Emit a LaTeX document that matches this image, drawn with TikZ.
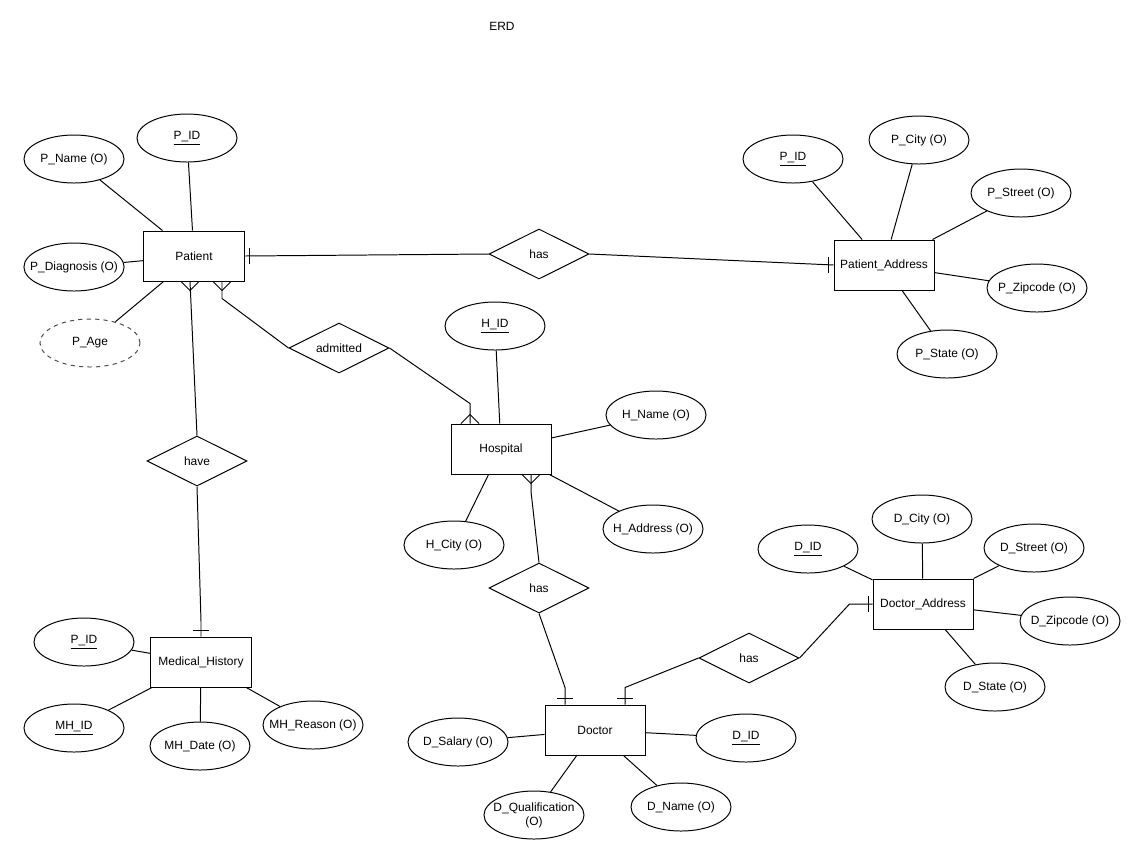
\documentclass[tikz,border=0pt]{standalone}
\usepackage{fontspec}
\setmainfont{Liberation Sans}
\usepackage{tikz}
\usetikzlibrary{shapes.geometric, calc}

% crow's foot at an entity edge (many side)
\newcommand{\crowdown}[1]{\draw (#1) ++(-9,0) -- ++(9,9) -- ++(9,-9);}
\newcommand{\crowup}[1]{\draw (#1) ++(-9,0) -- ++(9,-9) -- ++(9,9);}

\begin{document}
\begin{tikzpicture}[x=0.025cm, y=-0.025cm, line width=0.7pt,
        every node/.style={font=\fontsize{8.5}{10}\selectfont},
        entity/.style={rectangle, draw, fill=white, minimum width=2.5cm, minimum height=1.25cm, align=center},
        attr/.style={ellipse, draw, minimum width=2.5cm, minimum height=1.2cm, inner xsep=-6pt, inner ysep=0pt, align=center},
        derived/.style={attr, dashed, draw=black!70},
        rel/.style={diamond, draw, aspect=2, minimum width=2.5cm, minimum height=1.25cm, inner sep=0pt}]

    \useasboundingbox (0,0) rectangle (1141,864);

    \node (title) at (502,26) {ERD};

    % Patient
    \node (patient) [entity] at (194,256) {Patient};
    \node (ppid) [attr] at (187,138) {\underline{P\_ID}};
    \node (pname) [attr] at (74,159) {P\_Name (O)};
    \node (pdiag) [attr] at (74,267) {P\_Diagnosis (O)};
    \node (page) [derived] at (90,343) {P\_Age};

    % Patient_Address
    \node (has1) [rel] at (539,254) {has};
    \node (pataddr) [entity] at (884,265) {Patient\_Address};
    \node (papid) [attr] at (793,159) {\underline{P\_ID}};
    \node (pcity) [attr] at (919,140) {P\_City (O)};
    \node (pstreet) [attr] at (1021,193) {P\_Street (O)};
    \node (pzip) [attr] at (1037,288) {P\_Zipcode (O)};
    \node (pstate) [attr] at (947,354) {P\_State (O)};

    % Hospital
    \node (admitted) [rel] at (339,348) {admitted};
    \node (hospital) [entity] at (501,449) {Hospital};
    \node (hid) [attr] at (495,326) {\underline{H\_ID}};
    \node (hname) [attr] at (656,415) {H\_Name (O)};
    \node (hcity) [attr] at (454,545) {H\_City (O)};
    \node (haddr) [attr] at (653,529) {H\_Address (O)};

    % Medical_History
    \node (have) [rel] at (197,461) {have};
    \node (mh) [entity] at (201,662) {Medical\_History};
    \node (mhpid) [attr] at (84,642) {\underline{P\_ID}};
    \node (mhid) [attr] at (74,728) {\underline{MH\_ID}};
    \node (mhdate) [attr] at (200,746) {MH\_Date (O)};
    \node (mhreason) [attr] at (313,725) {MH\_Reason (O)};

    % Doctor
    \node (has2) [rel] at (539,588) {has};
    \node (doctor) [entity] at (595,730) {Doctor};
    \node (dsalary) [attr] at (458,742) {D\_Salary (O)};
    \node (did) [attr] at (746,738) {\underline{D\_ID}};
    \node (dqual) [attr] at (534,815) {D\_Qualification\\(O)};
    \node (dname) [attr] at (681,807) {D\_Name (O)};

    % Doctor_Address
    \node (has3) [rel] at (749,658) {has};
    \node (docaddr) [entity] at (923,604) {Doctor\_Address};
    \node (dadid) [attr] at (808,549) {\underline{D\_ID}};
    \node (dcity) [attr] at (922,519) {D\_City (O)};
    \node (dstreet) [attr] at (1034,548) {D\_Street (O)};
    \node (dzip) [attr] at (1070,621) {D\_Zipcode (O)};
    \node (dstate) [attr] at (995,687) {D\_State (O)};

    % attributes
    \foreach \a in {ppid, pname, pdiag, page}
        \draw (\a) -- (patient);
    \foreach \a in {papid, pcity, pstreet, pzip, pstate}
        \draw (\a) -- (pataddr);
    \foreach \a in {hid, hname, hcity, haddr}
        \draw (\a) -- (hospital);
    \foreach \a in {mhpid, mhid, mhdate, mhreason}
        \draw (\a) -- (mh);
    \foreach \a in {dsalary, did, dqual, dname}
        \draw (\a) -- (doctor);
    \foreach \a in {dadid, dcity, dstreet, dzip, dstate}
        \draw (\a) -- (docaddr);

    % relationships
    \coordinate (pf1) at ($(patient.south)+(-4,0)$);
    \coordinate (pf2) at ($(patient.south)+(28,0)$);
    \coordinate (hf1) at ($(hospital.north)+(-31,0)$);
    \coordinate (hf2) at ($(hospital.south)+(30,0)$);
    \coordinate (df1) at ($(doctor.north)+(-30,0)$);
    \coordinate (df2) at ($(doctor.north)+(30,0)$);

    \draw (patient.east) -- (has1.west);
    \draw (has1.east) -- (pataddr.west);
    \draw ($(patient.east)+(5,-8)$) -- ++(0,16);
    \draw ($(pataddr.west)+(-5,-8)$) -- ++(0,16);

    \draw (pf1) -- (have.north);
    \draw (have.south) -- ($(mh.north)+(0,-15)$) -- (mh.north);
    \crowdown{pf1}
    \draw ($(mh.north)+(-8,-6)$) -- ++(16,0);

    \draw (pf2) -- ++(0,17) -- (admitted.west);
    \draw (admitted.east) -- ($(hf1)+(0,-20)$) -- (hf1);
    \crowdown{pf2}
    \crowup{hf1}

    \draw (hf2) -- ++(0,17) -- (has2.north);
    \draw (has2.south) -- ($(df1)+(0,-17)$) -- (df1);
    \crowdown{hf2}
    \draw ($(df1)+(-8,-6)$) -- ++(16,0);

    \draw (df2) -- ++(0,-17) -- (has3.west);
    \draw (has3.east) -- ($(docaddr.west)+(-23,0)$) -- (docaddr.west);
    \draw ($(df2)+(-8,-6)$) -- ++(16,0);
    \draw ($(docaddr.west)+(-4,-8)$) -- ++(0,16);
\end{tikzpicture}
\end{document}
